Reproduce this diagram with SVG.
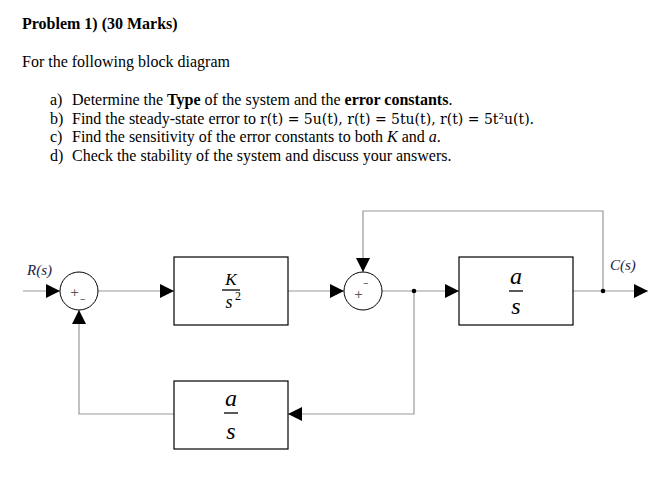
<svg xmlns="http://www.w3.org/2000/svg" width="666" height="482" viewBox="0 0 666 482">
<style>
text{font-family:"Liberation Serif",serif;fill:#000}
.t{font-size:16px}
.blk{fill:#fff;stroke:#000;stroke-width:1.2}
.ln{fill:none;stroke:#999;stroke-width:1.2}
.sum{fill:#fff;stroke:#000;stroke-width:1}
.m{font-style:italic}
.sg{font-size:11px;fill:#555;font-family:"DejaVu Sans",sans-serif}
.lb{font-size:15px;font-style:italic;fill:#1a1a4a}
.dm{font-family:"DejaVu Serif",serif;font-size:14px}
</style>
<defs><marker id="ar" viewBox="0 0 10 10" refX="10" refY="5" markerWidth="14" markerHeight="14" markerUnits="userSpaceOnUse" orient="auto"><path d="M0,0L10,5L0,10z" fill="#000"/></marker></defs>
<rect width="666" height="482" fill="#fff"/>
<text x="22" y="29" class="t" font-weight="bold">Problem 1) (30 Marks)</text>
<text x="22" y="67" class="t">For the following block diagram</text>
<text class="t" y="105"><tspan x="50">a)</tspan><tspan x="72">Determine the </tspan><tspan font-weight="bold">Type</tspan> of the system and the <tspan font-weight="bold">error constants</tspan>.</text>
<text class="t" y="124"><tspan x="50">b)</tspan><tspan x="72">Find the steady-state error to </tspan><tspan class="dm">r(t) = 5u(t), r(t) = 5tu(t), r(t) = 5t²u(t)</tspan>.</text>
<text class="t" y="142"><tspan x="50">c)</tspan><tspan x="72">Find the sensitivity of the error constants to both </tspan><tspan font-style="italic">K</tspan> and <tspan font-style="italic">a</tspan>.</text>
<text class="t" y="161"><tspan x="50">d)</tspan><tspan x="72">Check the stability of the system and discuss your answers.</tspan></text>
<g id="connectors">
<path class="ln" d="M23,291H60" marker-end="url(#ar)"/>
<path class="ln" d="M98,291H174" marker-end="url(#ar)"/>
<path class="ln" d="M288,291H344" marker-end="url(#ar)"/>
<path class="ln" d="M382,291H459" marker-end="url(#ar)"/>
<path class="ln" d="M573,291H648" marker-end="url(#ar)"/>
<path class="ln" d="M603,291V211H363V272" marker-end="url(#ar)"/>
<path class="ln" d="M414,291V414H288" marker-end="url(#ar)"/>
<path class="ln" d="M174,414H79V310" marker-end="url(#ar)"/>
<circle cx="414" cy="291" r="2.3" fill="#000"/>
<circle cx="603" cy="291" r="2.3" fill="#000"/>
</g>
<g id="sum1"><circle class="sum" cx="79" cy="291" r="19"/><text x="70" y="296" class="sg">+</text><text x="80" y="302" class="sg">–</text></g>
<g id="sum2"><circle class="sum" cx="363" cy="291" r="19"/><text x="354" y="298" class="sg">+</text><text x="363" y="286" class="sg">–</text></g>
<g id="G1"><rect class="blk" x="174" y="257" width="114" height="68"/><text x="231" y="285" class="m" text-anchor="middle" style="font-size:17px">K</text><line x1="222" y1="290" x2="240" y2="290" stroke="#000" stroke-width="1.3"/><text x="229" y="308" class="m" text-anchor="middle" style="font-size:18px">s</text><text x="235" y="300" style="font-size:12px">2</text></g>
<g id="G2"><rect class="blk" x="459" y="257" width="114" height="68"/><text x="516" y="284" class="m" text-anchor="middle" style="font-size:24px">a</text><line x1="509" y1="291" x2="523" y2="291" stroke="#000" stroke-width="1.3"/><text x="516" y="314" class="m" text-anchor="middle" style="font-size:24px">s</text></g>
<g id="H"><rect class="blk" x="174" y="381" width="114" height="68"/><text x="231" y="406" class="m" text-anchor="middle" style="font-size:24px">a</text><line x1="224" y1="413" x2="238" y2="413" stroke="#000" stroke-width="1.3"/><text x="231" y="439" class="m" text-anchor="middle" style="font-size:24px">s</text></g>
<text x="27" y="275" class="lb">R(s)</text>
<text x="610" y="270" class="lb">C(s)</text>
</svg>
